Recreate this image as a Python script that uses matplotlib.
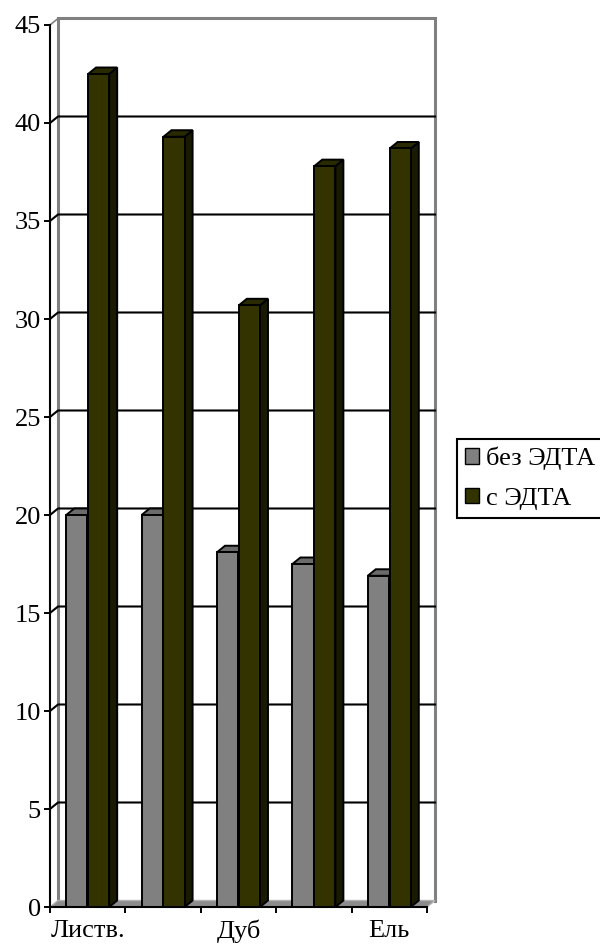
import matplotlib.pyplot as plt
from matplotlib.patches import Polygon, Patch

# data
categories = ["Листв.", "", "Дуб", "", "Ель"]
series_names = ["без ЭДТА", "с ЭДТА"]
bez_edta = [20.0, 20.0, 18.1, 17.5, 16.9]
s_edta = [42.5, 39.3, 30.7, 37.8, 38.7]
y_ticks = [0, 5, 10, 15, 20, 25, 30, 35, 40, 45]

front_colors = ["#808080", "#333300"]
top_colors = ["#6b6b6b", "#2a2a00"]
side_colors = ["#4d4d4d", "#1a1a00"]

plt.rcParams["font.family"] = ["Liberation Serif", "DejaVu Serif"]
FS = 19

fig = plt.figure(figsize=(6, 9.46), dpi=100)
ax = fig.add_axes([50 / 600, 39 / 946, 377 / 600, 882 / 946])
n = len(categories)
ax.set_xlim(0, n)
ax.set_ylim(0, 45)
ax.patch.set_visible(False)

# depth of the 3D box, pixels -> data units
bb = ax.get_window_extent()
DX = 8 * n / bb.width
DY = 6.5 * 45 / bb.height

# back wall
ax.add_patch(Polygon([(DX, DY), (n + DX, DY), (n + DX, 45 + DY), (DX, 45 + DY)],
                     closed=True, facecolor="white", edgecolor="none", zorder=0, clip_on=False))
ax.plot([DX, DX, n + DX, n + DX], [DY, 45 + DY, 45 + DY, DY], color="#808080",
        lw=2.2, solid_joinstyle="miter", zorder=1, clip_on=False)
ax.plot([0, DX], [45, 45 + DY], color="#808080", lw=1.2, zorder=1, clip_on=False)

# floor
ax.add_patch(Polygon([(0, 0), (n, 0), (n + DX, DY), (DX, DY)], closed=True,
                     facecolor="#8c8c8c", edgecolor="#b3b3b3", lw=1.0, zorder=1, clip_on=False))

# gridlines on the back wall + side
for v in y_ticks[1:-1]:
    ax.plot([0, DX, n + DX], [v, v + DY, v + DY], color="black", lw=1.5,
            zorder=2, clip_on=False)

# bars
w = 0.28
offs = [-0.145, 0.145]
series = [bez_edta, s_edta]
for i in range(n):
    for j, vals in enumerate(series):
        h = vals[i]
        x0 = i + 0.5 + offs[j] - w / 2
        x1 = x0 + w
        z = 3 + 2 * j
        ax.add_patch(Polygon([(x1, 0), (x1 + DX, DY), (x1 + DX, h + DY), (x1, h)], closed=True,
                             facecolor=side_colors[j], edgecolor="black", lw=1.4,
                             zorder=z, clip_on=False))
        ax.add_patch(Polygon([(x0, h), (x1, h), (x1 + DX, h + DY), (x0 + DX, h + DY)], closed=True,
                             facecolor=top_colors[j], edgecolor="black", lw=1.4,
                             zorder=z, clip_on=False))
for j, vals in enumerate(series):
    xs = [i + 0.5 + offs[j] for i in range(n)]
    ax.bar(xs, vals, width=w, color=front_colors[j], edgecolor="black", lw=1.4,
           zorder=4 + 2 * j, clip_on=False)

# axes
for s in ["top", "right"]:
    ax.spines[s].set_visible(False)
for s in ["left", "bottom"]:
    ax.spines[s].set_linewidth(1.5)
    ax.spines[s].set_zorder(10)
ax.set_yticks(y_ticks)
ax.tick_params(axis="y", direction="out", length=4.5, width=1.4, labelsize=FS, pad=2)
ax.set_xticks(range(n + 1))
ax.set_xticklabels([])
ax.set_xticks([i + 0.5 for i in range(n)], minor=True)
ax.set_xticklabels(categories, minor=True)
ax.tick_params(axis="x", which="major", direction="out", length=4.5, width=1.4)
ax.tick_params(axis="x", which="minor", length=0, labelsize=FS, pad=9)

handles = [Patch(facecolor=front_colors[j], edgecolor="black", lw=1.0) for j in range(2)]
leg = fig.legend(handles, series_names, loc="upper left",
                 bbox_to_anchor=(457 / 600, 1 - 439 / 946), bbox_transform=fig.transFigure,
                 frameon=True, fancybox=False, edgecolor="black", framealpha=1,
                 fontsize=FS, handlelength=0.55, handleheight=0.55, handletextpad=0.25,
                 labelspacing=0.65, borderpad=0.3, borderaxespad=0)
leg.get_frame().set_linewidth(1.5)

fig.savefig("out.png", dpi=100)
